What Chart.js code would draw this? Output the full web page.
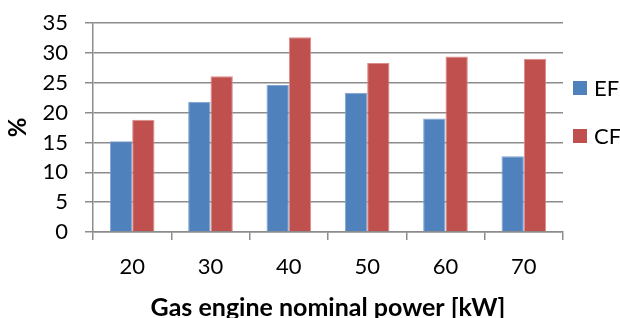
<!DOCTYPE html>
<html>
<head>
<meta charset="utf-8">
<script src="https://cdn.jsdelivr.net/npm/chart.js@4"></script>
<style>
  html, body { margin: 0; padding: 0; background: #fff; }
  #wrap { width: 620px; height: 318px; }
</style>
</head>
<body>
<div id="wrap"><canvas id="chart1" width="620" height="318"></canvas></div>
<script>
// Gas engine nominal power [kW] categories and the two series (%)
const categories = ['20', '30', '40', '50', '60', '70'];
const efValues = [15.2, 21.8, 24.6, 23.3, 19.0, 12.7];
const cfValues = [18.8, 26.1, 32.6, 28.3, 29.4, 29.0];
const yMin = 0;
const yMax = 35;
const yStep = 5;

const fontFamily = 'Lato, "Open Sans", sans-serif';
const gridColor = '#8c8c8c';

// Legend drawn on the right, like the spreadsheet one
const sideLegend = {
  id: 'sideLegend',
  afterDraw(chart) {
    const ctx = chart.ctx;
    const area = chart.chartArea;
    ctx.save();
    ctx.font = '22px ' + fontFamily;
    ctx.textBaseline = 'middle';
    chart.data.datasets.forEach((ds, i) => {
      const y = area.top + 65 + i * 48;
      const x = area.right + 10;
      ctx.fillStyle = ds.backgroundColor;
      ctx.fillRect(x, y - 7, 14, 14);
      ctx.fillStyle = '#000';
      ctx.fillText(ds.label, x + 21, y + 1);
    });
    ctx.restore();
  }
};

const ctx = document.getElementById('chart1').getContext('2d');
const chart1 = new Chart(ctx, {
  type: 'bar',
  data: {
    labels: categories,
    datasets: [
      {
        label: 'EF',
        data: efValues,
        backgroundColor: '#4f81bd',
        borderColor: '#7fa3d0',
        borderWidth: 1,
      },
      {
        label: 'CF',
        data: cfValues,
        backgroundColor: '#c0504d',
        borderColor: '#dc8c8a',
        borderWidth: 1,
      },
    ],
  },
  options: {
    responsive: false,
    animation: false,
    layout: {
      padding: { top: 23, right: 57, left: 0, bottom: 0 },
    },
    datasets: {
      bar: {
        categoryPercentage: 0.57,
        barPercentage: 1.0,
      },
    },
    scales: {
      x: {
        afterFit: (scale) => { scale.height = 86; },
        grid: {
          offset: true,
          drawOnChartArea: false,
          drawTicks: true,
          tickLength: 8,
          color: gridColor,
          lineWidth: 1.5,
        },
        border: { color: gridColor, width: 1.5 },
        ticks: {
          autoSkip: false,
          maxRotation: 0,
          color: '#000',
          padding: 14,
          font: { family: fontFamily, size: 22 },
        },
        title: {
          display: true,
          text: 'Gas engine nominal power [kW]',
          color: '#000',
          padding: { top: 0, bottom: -2 },
          font: { family: fontFamily, size: 25, weight: 'bold', lineHeight: 1 },
        },
      },
      y: {
        min: yMin,
        max: yMax,
        afterFit: (scale) => {
          scale.width = 93;
          scale.paddingTop = 0;
          scale.paddingBottom = 0;
        },
        ticks: {
          stepSize: yStep,
          autoSkip: false,
          color: '#000',
          padding: 17,
          font: { family: fontFamily, size: 22 },
        },
        grid: {
          color: gridColor,
          lineWidth: 1.5,
          tickLength: 8,
        },
        border: { color: gridColor, width: 1.5 },
        title: {
          display: true,
          text: '%',
          color: '#000',
          padding: { top: 6, bottom: 0 },
          font: { family: fontFamily, size: 24, weight: 'bold', lineHeight: 1 },
        },
      },
    },
    plugins: {
      legend: { display: false },
      tooltip: { enabled: false },
    },
  },
  plugins: [sideLegend],
});
</script>
</body>
</html>
